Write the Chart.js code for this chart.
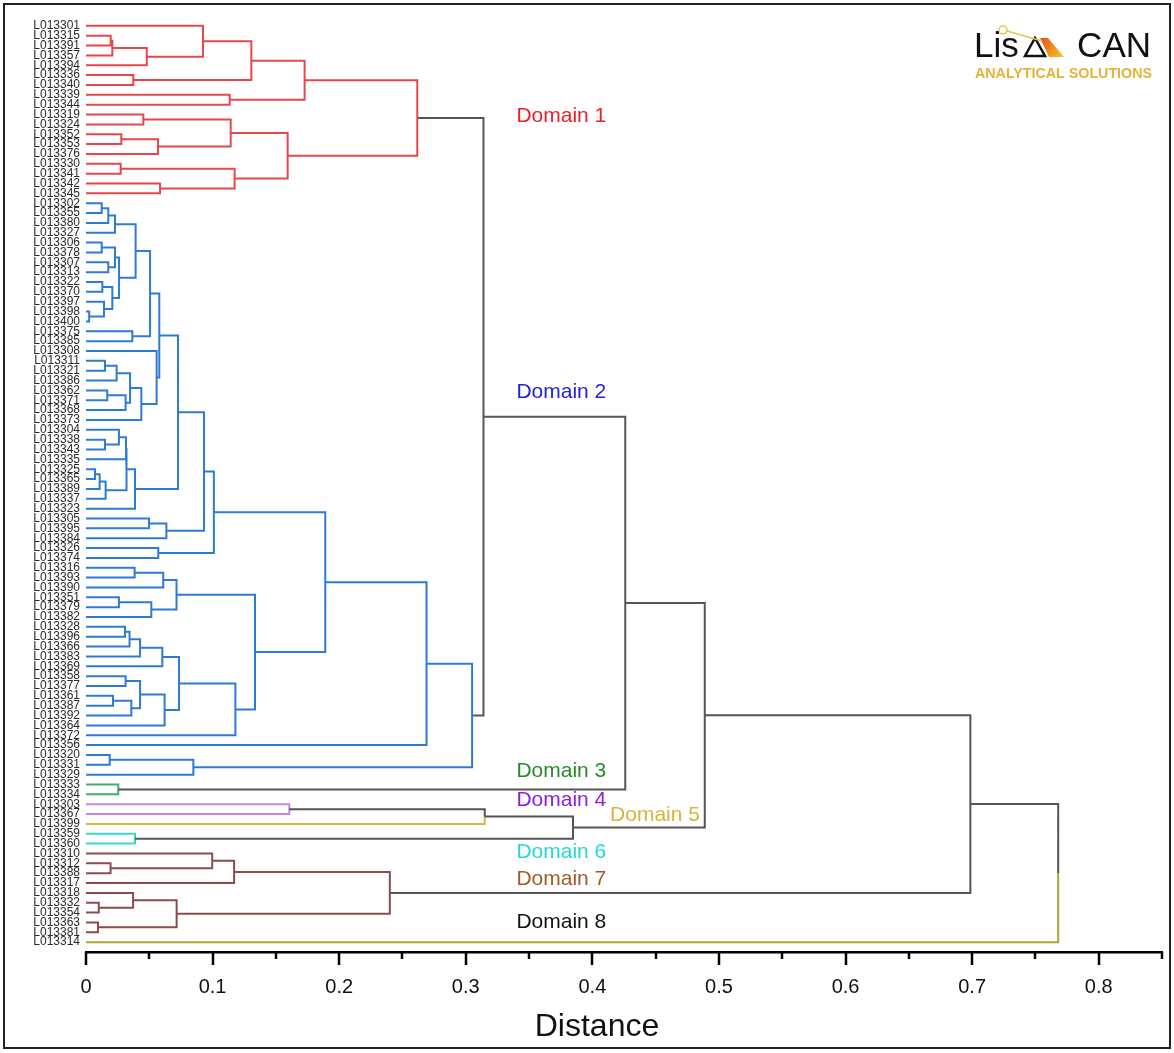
<!DOCTYPE html>
<html>
<head>
<meta charset="utf-8">
<title>Dendrogram</title>
<script src="https://cdn.jsdelivr.net/npm/chart.js@4.4.1/dist/chart.umd.min.js"></script>
<style>
  html, body { margin: 0; padding: 0; background: #fff; }
  #wrap { position: relative; width: 1174px; height: 1053px; }
  #frame { position: absolute; left: 3px; top: 3px; width: 1168px; height: 1046px; border: 2px solid #222; box-sizing: border-box; pointer-events: none; }
</style>
</head>
<body>
<div id="wrap">
  <canvas id="dendro" width="1174" height="1053"></canvas>
  <div id="frame"></div>
</div>
<script>
var leafLabels = [
  "L013301", "L013315", "L013391", "L013357", "L013394", "L013336", "L013340", "L013339", "L013344",
  "L013319", "L013324", "L013352", "L013353", "L013376", "L013330", "L013341", "L013342", "L013345",
  "L013302", "L013355", "L013380", "L013327", "L013306", "L013378", "L013307", "L013313", "L013322",
  "L013370", "L013397", "L013398", "L013400", "L013375", "L013385", "L013308", "L013311", "L013321",
  "L013386", "L013362", "L013371", "L013368", "L013373", "L013304", "L013338", "L013343", "L013335",
  "L013325", "L013365", "L013389", "L013337", "L013323", "L013305", "L013395", "L013384", "L013326",
  "L013374", "L013316", "L013393", "L013390", "L013351", "L013379", "L013382", "L013328", "L013396",
  "L013366", "L013383", "L013369", "L013358", "L013377", "L013361", "L013387", "L013392", "L013364",
  "L013372", "L013356", "L013320", "L013331", "L013329", "L013333", "L013334", "L013303", "L013367",
  "L013399", "L013359", "L013360", "L013310", "L013312", "L013388", "L013317", "L013318", "L013332",
  "L013354", "L013363", "L013381", "L013314"
];

// how many leaves (in the order above) belong to each domain
var domainSizes = [18, 59, 2, 2, 1, 2, 9, 1];
var domainNames = ["Domain 1", "Domain 2", "Domain 3", "Domain 4", "Domain 5", "Domain 6", "Domain 7", "Domain 8"];

// merges: [left, right, distance]; a string is a leaf, a number is an earlier merge
var merges = [
  ["L013315", "L013391", 0.0195], [0, "L013357", 0.0208], [1, "L013394", 0.048], ["L013301", 2, 0.0924],
  ["L013336", "L013340", 0.0374], [3, 4, 0.1306], ["L013339", "L013344", 0.1135], [5, 6, 0.1727],
  ["L013319", "L013324", 0.0453], ["L013352", "L013353", 0.0279], [9, "L013376", 0.0569], [8, 10, 0.1143],
  ["L013330", "L013341", 0.0274], ["L013342", "L013345", 0.0585], [12, 13, 0.1174], [11, 14, 0.1593],
  [7, 15, 0.2617],
  ["L013302", "L013355", 0.0124], [17, "L013380", 0.0176], [18, "L013327", 0.0229],
  ["L013306", "L013378", 0.0124], ["L013307", "L013313", 0.0176], [20, 21, 0.0229],
  ["L013322", "L013370", 0.0129], ["L013398", "L013400", 0.0025], ["L013397", 24, 0.0142], [23, 25, 0.0208],
  [22, 26, 0.0261], [19, 27, 0.0392], ["L013375", "L013385", 0.0366], [28, 29, 0.0506],
  ["L013311", "L013321", 0.015], [31, "L013386", 0.0242], ["L013362", "L013371", 0.0168], [33, "L013368", 0.0313],
  [32, 34, 0.0348], [35, "L013373", 0.0437], ["L013308", 36, 0.0558], [30, 37, 0.0579],
  ["L013338", "L013343", 0.015], ["L013304", 39, 0.026], [40, "L013335", 0.0316],
  ["L013325", "L013365", 0.0071], [42, "L013389", 0.0108], [43, "L013337", 0.0155], [41, 44, 0.032],
  [45, "L013323", 0.0387], [38, 46, 0.0727],
  ["L013305", "L013395", 0.0498], [48, "L013384", 0.0635], [47, 49, 0.0932],
  ["L013326", "L013374", 0.0571], [50, 51, 0.101],
  ["L013316", "L013393", 0.0384], [53, "L013390", 0.061], ["L013351", "L013379", 0.026], [55, "L013382", 0.0516],
  [54, 56, 0.0715],
  ["L013328", "L013396", 0.0308], [58, "L013366", 0.0344], [59, "L013383", 0.0427], [60, "L013369", 0.0603],
  ["L013358", "L013377", 0.0313], ["L013361", "L013387", 0.0213], [63, "L013392", 0.0358], [62, 64, 0.0427],
  [65, "L013364", 0.0621], [61, 66, 0.0735], [67, "L013372", 0.118], [57, 68, 0.1335],
  [52, 69, 0.189], [70, "L013356", 0.269], ["L013320", "L013331", 0.0187], [72, "L013329", 0.0848],
  [71, 73, 0.305],
  [16, 74, 0.314],
  ["L013333", "L013334", 0.0255], [75, 76, 0.426],
  ["L013303", "L013367", 0.1606], [78, "L013399", 0.315],
  ["L013359", "L013360", 0.0387], [79, 80, 0.3847],
  [77, 81, 0.4888],
  ["L013312", "L013388", 0.0194], ["L013310", 83, 0.0997], [84, "L013317", 0.117],
  ["L013332", "L013354", 0.0101], ["L013318", 86, 0.0372], ["L013363", "L013381", 0.0095], [87, 88, 0.0716],
  [85, 89, 0.240],
  [82, 90, 0.6986],
  [91, "L013314", 0.768]
];

var xTickValues = [0, 0.1, 0.2, 0.3, 0.4, 0.5, 0.6, 0.7, 0.8];
var xTickLabels = ["0", "0.1", "0.2", "0.3", "0.4", "0.5", "0.6", "0.7", "0.8"];

var lineColors = ["#e5474d", "#2f7bd4", "#3fb06c", "#c985ea", "#d8b83e", "#3bd8cc", "#8c4b4f", "#aca634"];
var textColors = ["#e8202a", "#2222d8", "#2a8a2a", "#8a20e0", "#d9b43a", "#28d6d6", "#a3582e", "#111111"];
var grayLine = "#555555";

// label placement for the domain names (x in distance, y in leaf rows)
var domainLabelX = [0.34, 0.34, 0.34, 0.34, 0.414, 0.34, 0.34, 0.34];
var domainLabelY = [9.2, 37.2, 75.7, 78.6, 80.1, 83.9, 86.6, 91.0];

var leafDomain = [];
domainSizes.forEach(function (n, d) {
  for (var i = 0; i < n; i++) leafDomain.push(d);
});

var nodeY = [], nodeH = [], nodeDom = [];
function nodeInfo(ref) {
  if (typeof ref === "string") {
    var i = leafLabels.indexOf(ref);
    return { y: i, h: 0, dom: leafDomain[i], leaf: true };
  }
  return { y: nodeY[ref], h: nodeH[ref], dom: nodeDom[ref], leaf: false };
}

var segs = {};
function addSeg(color, pts) {
  if (!segs[color]) segs[color] = [];
  pts.forEach(function (p) { segs[color].push(p); });
  segs[color].push({ x: NaN, y: NaN });
}

merges.forEach(function (m, k) {
  var a = nodeInfo(m[0]), b = nodeInfo(m[1]), h = m[2];
  var y = (a.y + b.y) / 2;
  var dom = a.dom === b.dom ? a.dom : -1;
  nodeY[k] = y; nodeH[k] = h; nodeDom[k] = dom;
  [a, b].forEach(function (c) {
    var col = dom >= 0 ? lineColors[dom] : (c.leaf ? lineColors[c.dom] : grayLine);
    addSeg(col, [{ x: c.h, y: c.y }, { x: h, y: c.y }, { x: h, y: y }]);
  });
});

var datasets = Object.keys(segs).map(function (col) {
  return {
    data: segs[col],
    borderColor: col,
    borderWidth: 2,
    pointRadius: 0,
    pointHoverRadius: 0,
    fill: false,
    tension: 0,
    spanGaps: false
  };
});

var minorTicks = [];
for (var i = 0; i <= 17; i++) minorTicks.push(Math.round(i * 5) / 100);

var extras = {
  id: "extras",
  afterDraw: function (chart) {
    var ctx = chart.ctx, xs = chart.scales.x, ys = chart.scales.y;
    ctx.save();
    // axis tick marks
    ctx.strokeStyle = "#000";
    ctx.lineWidth = 2.5;
    minorTicks.forEach(function (v) {
      var major = xTickValues.some(function (t) { return Math.abs(t - v) < 1e-9; });
      var px = Math.round(xs.getPixelForValue(v));
      ctx.beginPath();
      ctx.moveTo(px, xs.top);
      ctx.lineTo(px, xs.top + (major ? 13 : 7));
      ctx.stroke();
    });

    // domain names
    ctx.font = "21px Arial, 'Liberation Sans', sans-serif";
    ctx.textAlign = "left";
    ctx.textBaseline = "middle";
    domainNames.forEach(function (name, d) {
      ctx.fillStyle = textColors[d];
      ctx.fillText(name, xs.getPixelForValue(domainLabelX[d]), ys.getPixelForValue(domainLabelY[d]));
    });

    // axis title
    ctx.fillStyle = "#111";
    ctx.font = "32px Arial, 'Liberation Sans', sans-serif";
    ctx.textAlign = "center";
    ctx.fillText("Distance", 597, 1027);

    // logo
    ctx.textAlign = "left";
    ctx.textBaseline = "alphabetic";
    ctx.font = "35px Arial, 'Liberation Sans', sans-serif";
    ctx.fillStyle = "#111";
    ctx.fillText("Lis", 974, 57);
    ctx.textAlign = "right";
    ctx.fillText("CAN", 1151, 57);
    ctx.lineWidth = 2.5;
    ctx.strokeStyle = "#111";
    ctx.beginPath();
    ctx.moveTo(1025, 56); ctx.lineTo(1035, 38); ctx.lineTo(1045, 56); ctx.closePath();
    ctx.stroke();
    var grad = ctx.createLinearGradient(1040, 38, 1064, 57);
    grad.addColorStop(0, "#e84a1c");
    grad.addColorStop(0.6, "#f39a1e");
    grad.addColorStop(1, "#f7c632");
    ctx.fillStyle = grad;
    ctx.beginPath();
    ctx.moveTo(1040, 38); ctx.lineTo(1048, 38); ctx.lineTo(1064, 57); ctx.lineTo(1049, 57); ctx.closePath();
    ctx.fill();
    ctx.strokeStyle = "#e9c24a";
    ctx.lineWidth = 1.5;
    ctx.beginPath();
    ctx.arc(1003, 30, 4, 0, Math.PI * 2);
    ctx.stroke();
    ctx.beginPath();
    ctx.moveTo(1007, 31); ctx.lineTo(1042, 41);
    ctx.stroke();
    ctx.fillStyle = "#e8b23a";
    ctx.font = "bold 14.3px Arial, 'Liberation Sans', sans-serif";
    ctx.textAlign = "left";
    ctx.textBaseline = "middle";
    ctx.fillText("ANALYTICAL SOLUTIONS", 975, 74, 177);
    ctx.restore();
  }
};

new Chart("dendro", {
  type: "line",
  data: { datasets: datasets },
  options: {
    responsive: false,
    animation: false,
    events: [],
    layout: { padding: { left: 6, right: 12, top: 16, bottom: 0 } },
    plugins: {
      legend: { display: false },
      tooltip: { enabled: false },
      title: { display: false }
    },
    scales: {
      x: {
        type: "linear",
        min: 0,
        max: 0.85,
        afterBuildTicks: function (s) {
          s.ticks = minorTicks.map(function (v) { return { value: v }; });
        },
        afterFit: function (s) { s.height = 101; },
        ticks: {
          autoSkip: false,
          maxRotation: 0,
          padding: 0,
          color: "#111",
          font: { family: "Arial, 'Liberation Sans', sans-serif", size: 20 },
          callback: function (value) {
            for (var i = 0; i < xTickValues.length; i++) {
              if (Math.abs(xTickValues[i] - value) < 1e-9) return xTickLabels[i];
            }
            return "";
          }
        },
        // tick marks are drawn by the plugin; the grid only reserves the gap above the labels
        grid: { display: true, drawOnChartArea: false, drawTicks: true, tickLength: 23, color: "rgba(0,0,0,0)" },
        border: { display: true, color: "#000", width: 2.5 }
      },
      y: {
        type: "linear",
        reverse: true,
        min: -1,
        max: leafLabels.length,
        afterBuildTicks: function (s) {
          s.ticks = leafLabels.map(function (_, i) { return { value: i }; });
        },
        afterFit: function (s) { s.width = 80; },
        ticks: {
          autoSkip: false,
          padding: 6,
          color: "#2a2a2a",
          font: { family: "Arial, 'Liberation Sans', sans-serif", size: 12 },
          callback: function (value) { return leafLabels[value]; }
        },
        grid: { display: false, drawTicks: false },
        border: { display: false }
      }
    }
  },
  plugins: [extras]
});
</script>
</body>
</html>
